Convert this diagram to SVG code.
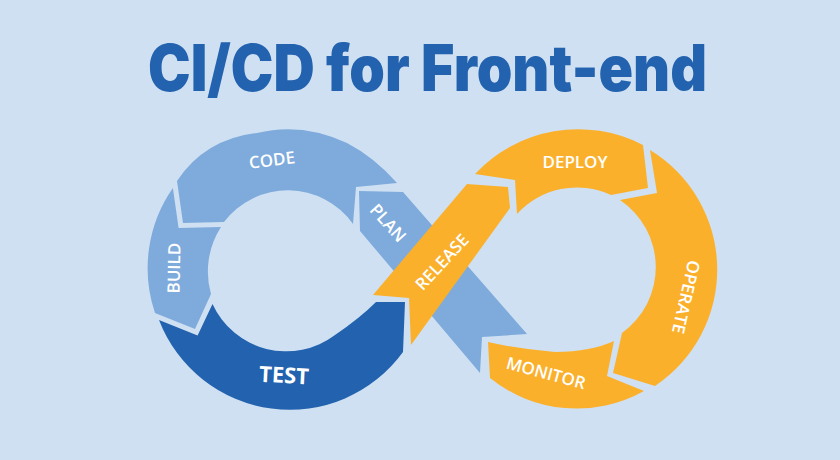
<svg xmlns="http://www.w3.org/2000/svg" width="840" height="460" viewBox="0 0 840 460">
<style>
.bg{fill:#cfe0f2}
.lb{fill:#7eabdc}
.db{fill:#2362ae}
.or{fill:#fbb02c}
.lbl{font-family:"Open Sans","Liberation Sans",sans-serif;font-size:17px;font-weight:600;fill:#ffffff;text-anchor:middle}
.big{font-family:"Open Sans","Liberation Sans",sans-serif;font-size:22px;font-weight:700;fill:#ffffff;text-anchor:middle}
.title{font-family:Inter,Roboto,"Liberation Sans",sans-serif;font-size:64px;font-weight:900;fill:#2262ae}
</style>
<rect class="bg" x="0" y="0" width="840" height="460"/>
<text class="title" x="148" y="91" textLength="559" lengthAdjust="spacingAndGlyphs">CI/CD for Front-end</text>
<g id="connectors"></g>
<g id="plan">
<path class="lb" d="M359,191 L403,192 L527,334 L482,337 L480,373 L360,231 Z"/>
<text class="lbl" transform="translate(388,223) rotate(48)" y="6">PLAN</text>
</g>
<g id="code">
<path class="lb" d="M177,181 Q205,139 257,133 Q302,122 347,143 Q374,157 397,183 L356,187 L353,224 A80,80 0 0 0 224,222 L183,223 Z"/>
<text class="lbl" transform="translate(272,160) rotate(-7)" y="6">CODE</text>
</g>
<g id="build">
<path class="lb" d="M172.9,188 L178.6,228 L221,227 A82,82 0 0 0 211,294 L195,329 L155,313 A140,140 0 0 1 172.9,188 Z"/>
<text class="lbl" transform="translate(174,268) rotate(-89)" y="6">BUILD</text>
</g>
<g id="test">
<path class="db" d="M159,320 L197.6,335.4 L212.5,304 A81,81 0 0 0 335,335 Q360,318 376,302 L405,302 L403,352 A140,140 0 0 1 159,320 Z"/>
<text class="big" transform="translate(284,375) rotate(3)" y="8">TEST</text>
</g>
<g id="release">
<path class="or" d="M373,295 L467,184 L508,187 L510,208 L411,345 L409,298 Z"/>
<text class="lbl" transform="translate(442,262) rotate(-47)" y="6">RELEASE</text>
</g>
<g id="deploy">
<path class="or" d="M475,174 A141,141 0 0 1 643,145 L648,188 L611,195 A81,81 0 0 0 517,214 L515,180 Z"/>
<text class="lbl" transform="translate(575,162) rotate(0)" y="6">DEPLOY</text>
</g>
<g id="operate">
<path class="or" d="M650,150 L657,193 L620,200 A81,81 0 0 1 622,333 L613,373 L655,386 A140,140 0 0 0 650,150 Z"/>
<text class="lbl" transform="translate(686,297) rotate(103)" y="6">OPERATE</text>
</g>
<g id="monitor">
<path class="or" d="M488,342 Q518.5,349 555,352 Q591.5,351.5 614,341 L607,376 L644,391 A138,138 0 0 1 490,378 Z"/>
<text class="lbl" transform="translate(546,373) rotate(15)" y="6">MONITOR</text>
</g>
</svg>
